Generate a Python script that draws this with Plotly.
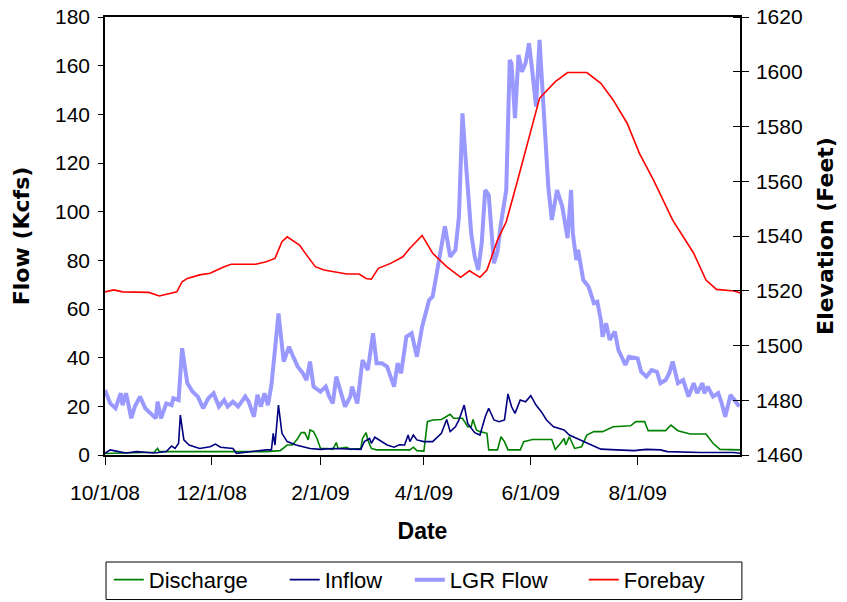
import pandas as pd
import plotly.graph_objects as go

START = pd.Timestamp("2008-10-01")

# ---- Data (days since 10/1/08) ----
forebay_days = [0, 5, 10, 25, 31, 41, 44, 47, 54, 60, 68, 72, 86, 92, 97, 101, 104, 111, 115, 120,
                125, 138, 145, 149, 152, 156, 163, 170, 174, 181, 187, 195, 203, 208, 214, 218, 224,
                229, 235, 242, 248, 257, 264, 275, 283, 290, 298, 305, 313, 324, 336, 343, 349, 359, 363]
forebay_ft = [1519.6, 1520.3, 1519.6, 1519.4, 1518.1, 1519.6, 1523.3, 1524.5, 1525.8, 1526.4, 1528.8,
              1529.7, 1529.7, 1530.6, 1531.8, 1537.9, 1539.7, 1536.7, 1533.1, 1528.8, 1527.6, 1526.1,
              1526.1, 1524.5, 1524.2, 1528.2, 1530.0, 1532.4, 1535.5, 1540.2, 1533.7, 1528.8, 1524.9,
              1527.3, 1524.9, 1527.6, 1538.5, 1545.2, 1559.2, 1576.3, 1590.3, 1596.4, 1599.7, 1599.7,
              1595.8, 1589.7, 1581.2, 1570.2, 1560.5, 1545.8, 1533.7, 1523.9, 1520.5, 1519.9, 1519.1]

lgr_days = [0, 3, 6, 9, 10, 12, 15, 17, 20, 23, 26, 29, 30, 32, 35, 38, 39, 42, 44, 47, 50, 53, 56,
            59, 62, 65, 68, 70, 73, 76, 80, 82, 85, 87, 89, 91, 93, 95, 97, 99, 102, 105, 107, 110,
            113, 115, 117, 119, 123, 126, 128, 130, 132, 135, 137, 140, 141, 144, 147, 150, 153, 155,
            158, 161, 165, 167, 169, 172, 175, 178, 181, 183, 185, 187, 189, 192, 194, 197, 200, 202,
            204, 206, 209, 211, 213, 215, 217, 219, 222, 224, 226, 229, 231, 232, 234, 236, 238, 240,
            242, 244, 246, 248, 250, 252, 253, 255, 258, 261, 264, 266, 267, 269, 270, 273, 276, 279,
            281, 283, 284, 286, 288, 291, 293, 297, 299, 304, 306, 309, 312, 315, 317, 320, 322, 324,
            327, 330, 333, 336, 338, 341, 342, 344, 347, 350, 352, 354, 357, 360, 362]
lgr_kcfs = [26.7, 21.2, 19.2, 25.4, 20.5, 25.4, 15.1, 19.9, 24.0, 19.2, 17.1, 15.1, 21.9, 15.1, 21.2,
            20.5, 23.3, 22.6, 43.9, 29.5, 26.0, 24.0, 19.2, 23.3, 25.4, 19.9, 22.6, 19.9, 21.9, 19.9,
            24.0, 21.9, 15.7, 24.7, 19.9, 25.4, 20.5, 28.8, 43.2, 58.2, 38.4, 44.5, 41.1, 36.3, 33.6,
            30.8, 38.4, 28.1, 26.0, 28.1, 24.0, 21.2, 32.2, 24.0, 19.9, 24.0, 28.1, 21.2, 39.0, 34.9,
            50.0, 37.7, 37.7, 36.3, 28.1, 37.7, 33.6, 48.6, 50.0, 40.4, 52.7, 58.2, 63.7, 65.1, 73.3,
            84.3, 94.0, 81.5, 84.3, 97.9, 140.4, 119.9, 91.1, 81.5, 76.0, 87.0, 108.9, 106.9, 78.8,
            83.6, 95.2, 108.9, 162.3, 161.0, 138.4, 164.4, 157.5, 161.0, 169.2, 156.9, 143.2, 170.6,
            147.3, 118.0, 110.3, 96.6, 108.9, 102.0, 89.1, 108.9, 91.1, 80.1, 84.3, 71.9, 69.2, 62.4,
            63.0, 55.5, 48.6, 54.1, 47.3, 50.7, 43.2, 37.0, 40.4, 39.7, 34.2, 32.2, 34.9, 34.2, 29.5,
            30.8, 33.6, 38.4, 29.5, 30.8, 24.0, 29.5, 25.4, 29.5, 25.4, 28.1, 24.0, 25.4, 21.2, 15.7,
            24.7, 21.9, 19.9]

inflow_days = [0, 3, 7, 12, 18, 28, 35, 38, 40, 42, 43, 45, 48, 54, 60, 63, 66, 73, 75, 83, 92, 95,
               96, 97, 99, 101, 104, 109, 117, 123, 130, 146, 148, 151, 152, 154, 157, 161, 165, 168,
               171, 173, 174, 176, 178, 182, 187, 192, 195, 197, 200, 202, 205, 207, 211, 214, 217,
               219, 222, 225, 228, 230, 232, 234, 237, 240, 243, 246, 249, 252, 256, 262, 265, 271,
               277, 283, 292, 302, 309, 317, 321, 340, 359, 363]
inflow_kcfs = [0.7, 2.1, 1.5, 0.8, 1.4, 0.8, 1.4, 3.7, 2.7, 4.8, 16.4, 6.2, 4.1, 2.7, 3.4, 4.5, 3.2,
               2.7, 0.7, 1.5, 2.1, 2.1, 8.9, 4.1, 20.5, 8.9, 5.5, 4.1, 2.7, 2.3, 2.7, 2.3, 5.5, 6.8,
               4.8, 7.3, 5.9, 4.1, 3.2, 4.2, 4.1, 8.2, 5.5, 8.2, 6.2, 5.5, 5.5, 8.9, 14.6, 9.6, 11.6,
               14.4, 20.5, 13.0, 9.2, 8.2, 15.7, 19.2, 14.4, 13.7, 14.4, 25.1, 19.9, 17.1, 22.6, 21.9,
               24.4, 20.5, 17.8, 14.4, 11.6, 10.3, 8.2, 6.2, 4.1, 2.4, 2.1, 1.8, 2.3, 2.1, 1.4, 1.0,
               1.0, 0.7]

discharge_days = [0, 28, 30, 31, 92, 100, 104, 107, 110, 112, 114, 116, 117, 119, 121, 123, 127, 130,
                  132, 133, 138, 140, 146, 147, 149, 150, 152, 155, 174, 176, 178, 182, 184, 187, 192,
                  197, 199, 204, 207, 209, 210, 212, 214, 218, 219, 224, 226, 228, 230, 237, 239, 244,
                  255, 257, 260, 262, 263, 265, 268, 272, 275, 279, 284, 290, 300, 303, 308, 310, 320,
                  323, 327, 334, 343, 347, 351, 363]
discharge_kcfs = [0.6, 1.1, 2.7, 1.4, 1.4, 1.8, 4.1, 4.1, 6.8, 9.2, 9.2, 6.2, 10.3, 9.6, 6.8, 2.7,
                  2.7, 2.3, 5.1, 2.7, 3.2, 2.3, 2.7, 6.8, 9.2, 6.2, 2.7, 2.1, 2.1, 3.2, 1.8, 1.6, 13.7,
                  14.4, 14.6, 16.7, 15.1, 15.1, 11.6, 11.6, 14.6, 10.3, 9.6, 8.9, 2.1, 2.1, 7.5, 5.5,
                  2.1, 2.1, 5.5, 6.4, 6.4, 2.3, 4.8, 6.8, 4.1, 7.5, 2.7, 3.4, 8.2, 9.6, 9.6, 11.6, 12.0,
                  13.7, 13.7, 10.0, 10.0, 12.3, 10.0, 8.6, 8.6, 4.8, 2.3, 2.1]

tick_dates = ["2008-10-01", "2008-12-01", "2009-02-01", "2009-04-01", "2009-06-01", "2009-08-01"]
tick_text = ["10/1/08", "12/1/08", "2/1/09", "4/1/09", "6/1/09", "8/1/09"]


def to_dates(days):
    return [START + pd.Timedelta(days=d) for d in days]


SANS = "Liberation Sans, Arial, sans-serif"
WIDE_BOLD = "DejaVu Sans"

fig = go.Figure()
fig.add_trace(go.Scatter(x=to_dates(discharge_days), y=discharge_kcfs, name="Discharge",
                         mode="lines", line=dict(color="#008000", width=1.6), legend="legend"))
fig.add_trace(go.Scatter(x=to_dates(inflow_days), y=inflow_kcfs, name="Inflow",
                         mode="lines", line=dict(color="#000080", width=1.6), legend="legend2"))
fig.add_trace(go.Scatter(x=to_dates(lgr_days), y=lgr_kcfs, name="LGR Flow",
                         mode="lines", line=dict(color="#9999FF", width=4), legend="legend3"))
fig.add_trace(go.Scatter(x=to_dates(forebay_days), y=forebay_ft, name="Forebay", yaxis="y2",
                         mode="lines", line=dict(color="#FF0000", width=1.6), legend="legend4"))


def leg(xpos):
    return dict(orientation="h", x=xpos, xanchor="left", y=-0.285, yanchor="middle",
                bgcolor="rgba(0,0,0,0)", borderwidth=0, font=dict(family=SANS, size=22))


fig.update_layout(
    width=847, height=602,
    margin=dict(l=105, r=107, t=17, b=147, autoexpand=False),
    paper_bgcolor="white", plot_bgcolor="white",
    font=dict(family=SANS, size=21, color="black"),
    showlegend=True,
    legend=leg(0.006), legend2=leg(0.283), legend3=leg(0.48), legend4=leg(0.754),
    shapes=[dict(type="rect", xref="paper", yref="paper", x0=0.0016, x1=1.003,
                 y0=-0.2443, y1=-0.33, line=dict(color="black", width=1), layer="above")],
    xaxis=dict(
        type="date", range=["2008-10-01", "2009-09-28 10:00"],
        tickvals=tick_dates, ticktext=tick_text,
        showgrid=False, zeroline=False,
        showline=True, linecolor="black", linewidth=1.5, mirror=True,
        ticks="outside", ticklen=8, tickcolor="black", ticklabelstandoff=10,
        tickfont=dict(family=SANS, size=21),
        title=dict(text="<b>Date</b>", standoff=20, font=dict(family=SANS, size=23)),
    ),
    yaxis=dict(
        range=[0, 180], dtick=20, showgrid=False, zeroline=False,
        showline=True, linecolor="black", linewidth=1.5,
        ticks="outside", ticklen=5, tickcolor="black", ticklabelstandoff=4,
        ticklabeloverflow="allow",
        tickfont=dict(family=SANS, size=21),
        title=dict(text="<b>Flow (Kcfs)</b>", standoff=19,
                   font=dict(family=WIDE_BOLD, size=22)),
    ),
    yaxis2=dict(
        range=[1460, 1620], dtick=20, overlaying="y", side="right",
        showgrid=False, zeroline=False,
        showline=True, linecolor="black", linewidth=1.5,
        ticks="outside", ticklen=7, tickcolor="black", ticklabelstandoff=3,
        ticklabeloverflow="allow",
        tickfont=dict(family=SANS, size=21),
        minor=dict(dtick=20, ticks="inside", ticklen=7, tickcolor="black", showgrid=False),
        title=dict(text="<b>Elevation (Feet)</b>", standoff=16,
                   font=dict(family=WIDE_BOLD, size=22)),
    ),
)

fig.write_html("out.html", config={"displayModeBar": False},
               post_script="document.body.style.margin='0px';")
